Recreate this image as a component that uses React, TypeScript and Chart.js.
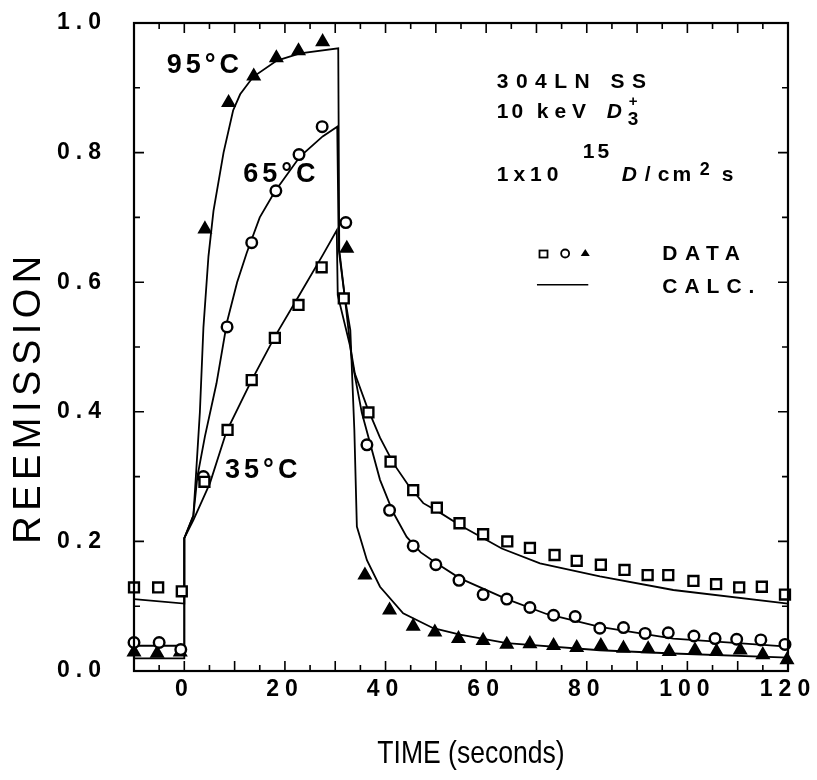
import React, { useEffect, useRef } from 'react';
import { Chart, registerables } from 'chart.js';

Chart.register(...registerables);

// ---- axis ticks / labels ----
const xLabelValues = [0, 20, 40, 60, 80, 100, 120];
const yLabelValues = [0.0, 0.2, 0.4, 0.6, 0.8, 1.0];

// ---- DATA: 35 °C (squares) ----
const sqT = [-10, -5.2, -0.5, 4.0, 8.6, 13.4, 18.0, 22.7, 27.3, 31.7, 36.6, 41.0, 45.5, 50.2, 54.7, 59.4, 64.2, 68.7, 73.6, 78.0, 82.8, 87.5, 92.1, 96.2, 101.2, 105.7, 110.3, 114.8, 119.4];
const sqV = [0.129, 0.129, 0.123, 0.292, 0.372, 0.449, 0.514, 0.565, 0.623, 0.575, 0.399, 0.323, 0.279, 0.252, 0.228, 0.211, 0.200, 0.190, 0.179, 0.170, 0.164, 0.156, 0.148, 0.148, 0.139, 0.134, 0.129, 0.130, 0.118];

// ---- DATA: 65 °C (circles) ----
const ciT = [-10, -5.0, -0.7, 3.8, 8.5, 13.4, 18.2, 22.8, 27.4, 32.1, 36.3, 40.8, 45.5, 50.0, 54.6, 59.4, 64.1, 68.7, 73.4, 77.7, 82.6, 87.3, 91.6, 96.2, 101.3, 105.5, 109.8, 114.6, 119.4];
const ciV = [0.044, 0.044, 0.033, 0.300, 0.531, 0.661, 0.741, 0.797, 0.840, 0.692, 0.349, 0.248, 0.193, 0.164, 0.140, 0.118, 0.111, 0.098, 0.086, 0.084, 0.066, 0.067, 0.058, 0.059, 0.054, 0.050, 0.049, 0.048, 0.041];

// ---- DATA: 95 °C (triangles) ----
const trT = [-10, -5.4, -0.8, 4.1, 8.8, 13.8, 18.3, 22.7, 27.5, 32.3, 35.9, 40.8, 45.5, 49.8, 54.5, 59.4, 64.1, 68.7, 73.4, 78.0, 82.8, 87.3, 92.2, 96.4, 101.5, 105.8, 110.5, 115.0, 119.8];
const trV = [0.029, 0.027, 0.029, 0.682, 0.877, 0.918, 0.946, 0.957, 0.971, 0.652, 0.148, 0.094, 0.069, 0.060, 0.050, 0.047, 0.041, 0.042, 0.039, 0.036, 0.039, 0.035, 0.034, 0.030, 0.032, 0.030, 0.032, 0.025, 0.017];

// ---- CALC curves ----
const calc35T = [-10, 0, 0, 1.8, 3.5, 5.1, 8.4, 13.4, 18.0, 22.7, 27.6, 30.3, 30.5, 33.0, 33.9, 36.3, 38.9, 41.6, 44.5, 47.5, 50.9, 54.8, 63.1, 70.7, 82.6, 97.2, 120];
const calc35V = [0.111, 0.104, 0.205, 0.233, 0.262, 0.290, 0.370, 0.449, 0.516, 0.578, 0.643, 0.680, 0.580, 0.500, 0.459, 0.408, 0.360, 0.320, 0.287, 0.259, 0.244, 0.225, 0.189, 0.166, 0.146, 0.125, 0.104];

const calc65T = [-10, 0, 0, 1.8, 2.6, 4.1, 6.4, 8.5, 10.5, 12.4, 15.0, 18.0, 23.0, 27.5, 30.4, 30.7, 31.9, 33.3, 35.3, 38.9, 41.5, 44.2, 47.0, 50.2, 54.8, 64.1, 72.0, 82.6, 97.2, 120];
const calc65V = [0.039, 0.039, 0.205, 0.240, 0.300, 0.362, 0.444, 0.539, 0.600, 0.645, 0.700, 0.740, 0.794, 0.825, 0.840, 0.650, 0.577, 0.480, 0.398, 0.295, 0.245, 0.207, 0.183, 0.166, 0.143, 0.111, 0.088, 0.068, 0.050, 0.0375];

const calc95T = [-10, 0, 0, 1.8, 2.3, 3.1, 3.8, 4.8, 5.8, 7.8, 9.7, 11.1, 13.7, 18.4, 23.0, 30.6, 30.8, 31.9, 33.0, 33.8, 34.3, 36.3, 38.9, 43.5, 49.5, 54.8, 64.1, 82.6, 97.2, 120];
const calc95V = [0.0196, 0.0196, 0.205, 0.240, 0.300, 0.400, 0.530, 0.640, 0.710, 0.800, 0.865, 0.890, 0.917, 0.942, 0.953, 0.961, 0.650, 0.577, 0.526, 0.372, 0.223, 0.171, 0.130, 0.089, 0.066, 0.056, 0.043, 0.032, 0.027, 0.0205];

const pts = (t: number[], v: number[]) => t.map((x, i) => ({ x, y: v[i] }));

const FONT = '"Liberation Sans", Arial, Helvetica, sans-serif';

function drawText(ctx: CanvasRenderingContext2D, s: string, px: number, py: number, size: number, o: any = {}) {
  ctx.save();
  ctx.font = `${o.italic ? 'italic ' : ''}${o.bold ? 'bold ' : ''}${size}px ${FONT}`;
  (ctx as any).letterSpacing = `${o.spacing ?? 0}px`;
  ctx.textAlign = o.align ?? 'left';
  ctx.textBaseline = o.baseline ?? 'alphabetic';
  ctx.fillStyle = '#000';
  ctx.translate(px, py);
  if (o.rotate) ctx.rotate(o.rotate);
  if (o.scaleX) ctx.scale(o.scaleX, 1);
  ctx.fillText(s, 0, 0);
  const w = ctx.measureText(s).width * (o.scaleX ?? 1);
  ctx.restore();
  return w;
}

const overlayPlugin = {
  id: 'overlay',
  beforeDraw(chart: any) {
    chart.ctx.letterSpacing = '6px';
  },
  afterDraw(chart: any) {
    const { ctx, chartArea: a, scales } = chart;
    const xs = scales.x;
    const ys = scales.y;
    const X = (t: number) => xs.getPixelForValue(t);
    const Y = (v: number) => ys.getPixelForValue(v);
    ctx.save();
    ctx.letterSpacing = '0px';
    ctx.strokeStyle = '#000';
    ctx.lineCap = 'butt';

    // inward tick marks on all four sides
    ctx.lineWidth = 1.6;
    ctx.beginPath();
    xs.ticks.forEach((tk: any) => {
      const p = X(tk.value);
      const major = Math.abs(tk.value / 10 - Math.round(tk.value / 10)) < 1e-6;
      const len = major ? 10 : 6;
      ctx.moveTo(p, a.bottom); ctx.lineTo(p, a.bottom - len);
      ctx.moveTo(p, a.top); ctx.lineTo(p, a.top + len);
    });
    ys.ticks.forEach((tk: any) => {
      const p = Y(tk.value);
      const major = Math.abs(tk.value * 5 - Math.round(tk.value * 5)) < 1e-6;
      const len = major ? 10 : 6;
      ctx.moveTo(a.left, p); ctx.lineTo(a.left + len, p);
      ctx.moveTo(a.right, p); ctx.lineTo(a.right - len, p);
    });
    ctx.stroke();

    // frame
    ctx.lineWidth = 2.2;
    ctx.strokeRect(a.left, a.top, a.right - a.left, a.bottom - a.top);

    // axis titles
    drawText(ctx, 'REEMISSION', 30, 397, 38, { align: 'center', baseline: 'middle', spacing: 5.5, rotate: -Math.PI / 2 });
    drawText(ctx, 'TIME (seconds)', 471, 754, 32, { align: 'center', baseline: 'middle', scaleX: 0.83 });

    // temperature labels
    drawText(ctx, '95°C', X(-3.5), Y(0.923), 27, { bold: true, spacing: 4 });
    drawText(ctx, '65°C', X(11.7), Y(0.755), 27, { bold: true, spacing: 4 });
    drawText(ctx, '35°C', X(8.1), Y(0.298), 27, { bold: true, spacing: 4 });

    // info block
    const bx = X(62.1);
    drawText(ctx, '304LN SS', bx, Y(0.900), 21, { bold: true, spacing: 7.5 });
    drawText(ctx, '10', bx, Y(0.853), 21, { bold: true, spacing: 3 });
    drawText(ctx, 'keV', bx + 40, Y(0.853), 21, { bold: true, spacing: 6 });
    drawText(ctx, 'D', bx + 110, Y(0.853), 21, { bold: true, italic: true });
    drawText(ctx, '+', bx + 132, Y(0.872), 15, { bold: true });
    drawText(ctx, '3', bx + 131, Y(0.843), 19, { bold: true });
    const by = Y(0.756);
    drawText(ctx, '1x10', bx, by, 21, { bold: true, spacing: 5 });
    drawText(ctx, '15', bx + 86, Y(0.792), 21, { bold: true, spacing: 3 });
    drawText(ctx, 'D', bx + 125, by, 21, { bold: true, italic: true });
    drawText(ctx, '/', bx + 148, by, 21, { bold: true });
    drawText(ctx, 'cm', bx + 161, by, 21, { bold: true, spacing: 3 });
    drawText(ctx, '2', bx + 203, Y(0.765), 18, { bold: true });
    drawText(ctx, 's', bx + 225, by, 21, { bold: true });

    // legend
    const ly = Y(0.6435);
    ctx.lineWidth = 1.8;
    ctx.strokeStyle = '#000';
    ctx.fillStyle = '#fff';
    const sx = X(71.4);
    ctx.fillRect(sx - 4, ly - 3.5, 8, 7);
    ctx.strokeRect(sx - 4, ly - 3.5, 8, 7);
    ctx.beginPath();
    ctx.arc(X(75.7), ly - 0.5, 4, 0, Math.PI * 2);
    ctx.fill(); ctx.stroke();
    const tx = X(79.7);
    ctx.fillStyle = '#000';
    ctx.beginPath();
    ctx.moveTo(tx, ly - 5); ctx.lineTo(tx + 4.5, ly + 2); ctx.lineTo(tx - 4.5, ly + 2); ctx.closePath();
    ctx.fill();
    drawText(ctx, 'DATA', X(95), Y(0.634), 21, { bold: true, spacing: 7.5 });
    ctx.lineWidth = 1.6;
    ctx.beginPath();
    ctx.moveTo(X(70.1), Y(0.596)); ctx.lineTo(X(80.3), Y(0.596));
    ctx.stroke();
    drawText(ctx, 'CALC.', X(95), Y(0.583), 21, { bold: true, spacing: 7 });

    ctx.restore();
  },
};

export default function App() {
  const ref = useRef<HTMLCanvasElement | null>(null);
  useEffect(() => {
    if (!ref.current) return;
    const lineDs = (label: string, t: number[], v: number[]) => ({
      type: 'line' as const,
      label,
      data: pts(t, v),
      borderColor: '#000',
      borderWidth: 1.8,
      pointRadius: 0,
      fill: false,
      tension: 0,
      order: 2,
      clip: false,
    });
    const markDs = (label: string, t: number[], v: number[], style: string, r: number, bg: string) => ({
      type: 'scatter' as const,
      label,
      data: pts(t, v),
      pointStyle: style,
      pointRadius: r,
      pointBackgroundColor: bg,
      pointBorderColor: '#000',
      pointBorderWidth: 2.4,
      showLine: false,
      order: 1,
      clip: false,
    });
    const chart = new Chart(ref.current, {
      type: 'scatter',
      data: {
        datasets: [
          lineDs('CALC. 35°C', calc35T, calc35V),
          lineDs('CALC. 65°C', calc65T, calc65V),
          lineDs('CALC. 95°C', calc95T, calc95V),
          markDs('DATA 35°C', sqT, sqV, 'rect', 7, '#fff'),
          markDs('DATA 65°C', ciT, ciV, 'circle', 5.3, '#fff'),
          markDs('DATA 95°C', trT, trV, 'triangle', 6.3, '#000'),
        ] as any,
      },
      options: {
        responsive: false,
        animation: false,
        devicePixelRatio: 1,
        layout: { padding: { left: 0, top: 23, right: 29, bottom: 0 } },
        plugins: { legend: { display: false }, tooltip: { enabled: false } },
        scales: {
          x: {
            type: 'linear',
            min: -10,
            max: 120,
            grid: { display: false, drawTicks: false },
            border: { display: false },
            ticks: {
              stepSize: 5,
              autoSkip: false,
              maxRotation: 0,
              padding: 5,
              color: '#000',
              font: { family: FONT, size: 23, weight: 'bold' },
              callback: (v: any) => (xLabelValues.includes(Number(v)) ? String(v) : ''),
            },
            afterFit: (s: any) => { s.height = 109; s.paddingLeft = 0; s.paddingRight = 0; },
          },
          y: {
            type: 'linear',
            min: 0,
            max: 1.0,
            grid: { display: false, drawTicks: false },
            border: { display: false },
            ticks: {
              stepSize: 0.1,
              autoSkip: false,
              padding: 27,
              color: '#000',
              font: { family: FONT, size: 23, weight: 'bold' },
              callback: (v: any) => {
                const n = Number(v);
                return yLabelValues.some((m) => Math.abs(m - n) < 1e-6) ? n.toFixed(1) : '';
              },
            },
            afterFit: (s: any) => { s.width = 134; s.paddingTop = 0; s.paddingBottom = 0; },
          },
        },
      },
      plugins: [overlayPlugin],
    });
    return () => chart.destroy();
  }, []);
  return (
    <div style={{ position: 'fixed', left: 0, top: 0, width: 817, height: 780, background: '#fff' }}>
      <canvas ref={ref} width={817} height={780} />
    </div>
  );
}
